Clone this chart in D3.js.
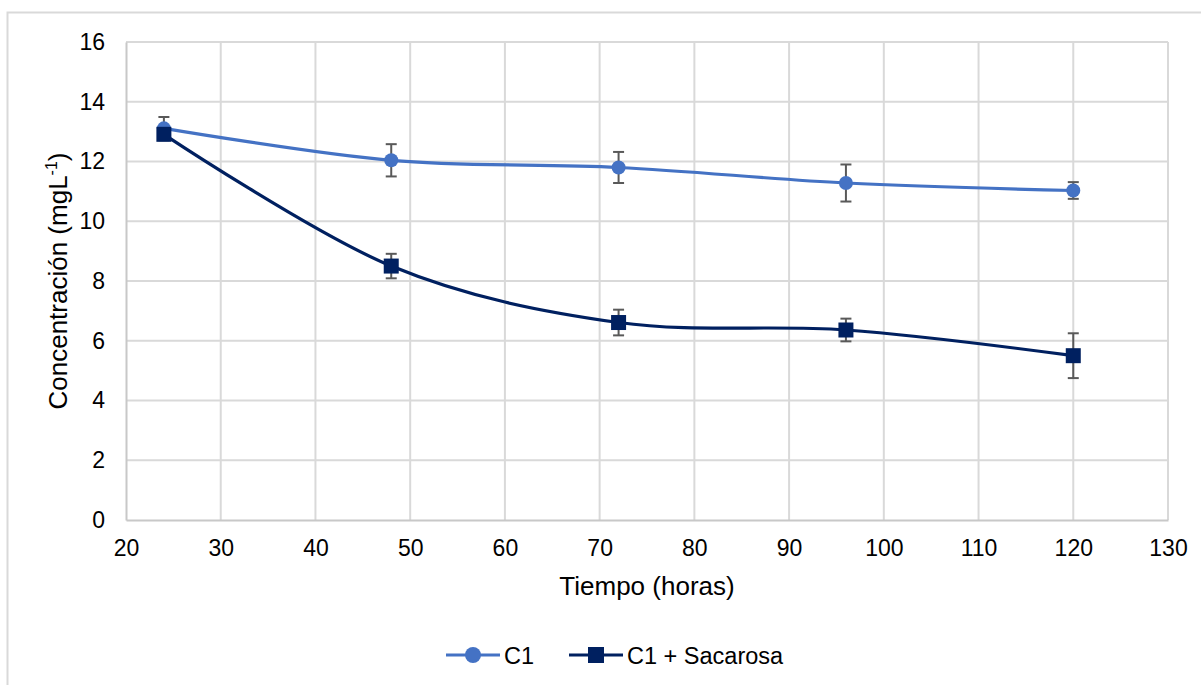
<!DOCTYPE html>
<html>
<head>
<meta charset="utf-8">
<script src="https://cdn.jsdelivr.net/npm/d3@7"></script>
<style>
  html, body { margin: 0; padding: 0; background: #fff; }
  svg { display: block; font-family: "Liberation Sans", Arial, sans-serif; }
</style>
</head>
<body>
<svg id="chart" width="1201" height="685"></svg>
<script>
// Sampling times (hours)
const hours = [24, 48, 72, 96, 120];
// Concentration, C1 (mg/L) and its standard deviation
const c1 = [13.11, 12.04, 11.80, 11.28, 11.03];
const c1Err = [0.38, 0.54, 0.52, 0.62, 0.28];
// Concentration, C1 + Sacarosa (mg/L) and its standard deviation
const sac = [12.91, 8.50, 6.61, 6.36, 5.50];
const sacErr = [0.20, 0.41, 0.43, 0.38, 0.75];
// Axis ticks
const xTicks = [20, 30, 40, 50, 60, 70, 80, 90, 100, 110, 120, 130];
const yTicks = [0, 2, 4, 6, 8, 10, 12, 14, 16];
const seriesNames = ["C1", "C1 + Sacarosa"];

const series = [
  { name: seriesNames[0], values: c1, err: c1Err, color: "#4472C4", marker: "circle" },
  { name: seriesNames[1], values: sac, err: sacErr, color: "#002060", marker: "square" }
];

const svg = d3.select("#chart");
const plot = { left: 126, right: 1168, top: 42, bottom: 520 };

const x = d3.scaleLinear().domain([20, 130]).range([plot.left, plot.right]);
const y = d3.scaleLinear().domain([0, 16]).range([plot.bottom, plot.top]);

// Outer chart frame (only top and left edges fall inside the canvas)
svg.append("path")
  .attr("d", "M7.5,685 V12.5 H1201")
  .attr("fill", "none").attr("stroke", "#D9D9D9").attr("stroke-width", 2);

// Gridlines
const grid = svg.append("g");
grid.selectAll("line.h").data(yTicks.filter(d => d > 0)).join("line")
  .attr("x1", plot.left).attr("x2", plot.right)
  .attr("y1", d => y(d)).attr("y2", d => y(d))
  .attr("stroke", "#D9D9D9").attr("stroke-width", 2);
grid.selectAll("line.v").data(xTicks.filter(d => d > 20)).join("line")
  .attr("x1", d => x(d)).attr("x2", d => x(d))
  .attr("y1", plot.top).attr("y2", plot.bottom)
  .attr("stroke", "#D9D9D9").attr("stroke-width", 2);

// Axes
const xAxis = d3.axisBottom(x).tickValues(xTicks).tickSize(0).tickPadding(20).tickFormat(d3.format("d"));
const yAxis = d3.axisLeft(y).tickValues(yTicks).tickSize(0).tickPadding(21).tickFormat(d3.format("d"));

const gx = svg.append("g").attr("transform", `translate(0,${plot.bottom})`).call(xAxis);
const gy = svg.append("g").attr("transform", `translate(${plot.left},0)`).call(yAxis);
[gx, gy].forEach(g => {
  g.select(".domain").attr("stroke", "#C8C8C8").attr("stroke-width", 2);
  g.selectAll("text").attr("font-size", 23).attr("fill", "#000")
    .attr("font-family", "'Liberation Sans', Arial, sans-serif");
});

// Axis titles
svg.append("text")
  .attr("x", (plot.left + plot.right) / 2).attr("y", 595)
  .attr("text-anchor", "middle").attr("font-size", 26).attr("fill", "#000")
  .text("Tiempo (horas)");

const yTitle = svg.append("text")
  .attr("transform", `translate(67,${(plot.top + plot.bottom) / 2}) rotate(-90)`)
  .attr("text-anchor", "middle").attr("font-size", 26).attr("fill", "#000");
yTitle.append("tspan").text("Concentración (mgL");
yTitle.append("tspan").attr("font-size", 16).attr("dy", -10).text("-1");
yTitle.append("tspan").attr("dy", 10).text(")");

// Series
const line = d3.line()
  .x(d => x(d.h)).y(d => y(d.v))
  .curve(d3.curveCardinal.tension(0));

const layer = svg.append("g");
series.forEach(s => {
  const pts = hours.map((h, i) => ({ h, v: s.values[i], e: s.err[i] }));
  const g = layer.append("g");
  g.append("path").datum(pts)
    .attr("d", line).attr("fill", "none")
    .attr("stroke", s.color).attr("stroke-width", 3.2);

  // Error bars
  const eb = g.selectAll("g.err").data(pts).join("g");
  eb.append("line")
    .attr("x1", d => x(d.h)).attr("x2", d => x(d.h))
    .attr("y1", d => y(d.v + d.e)).attr("y2", d => y(d.v - d.e))
    .attr("stroke", "#595959").attr("stroke-width", 2);
  [1, -1].forEach(sign => {
    eb.append("line")
      .attr("x1", d => x(d.h) - 5.5).attr("x2", d => x(d.h) + 5.5)
      .attr("y1", d => y(d.v + sign * d.e)).attr("y2", d => y(d.v + sign * d.e))
      .attr("stroke", "#595959").attr("stroke-width", 2);
  });

  // Markers
  if (s.marker === "circle") {
    g.selectAll("circle").data(pts).join("circle")
      .attr("cx", d => x(d.h)).attr("cy", d => y(d.v)).attr("r", 7)
      .attr("fill", s.color);
  } else {
    g.selectAll("rect").data(pts).join("rect")
      .attr("x", d => x(d.h) - 7.5).attr("y", d => y(d.v) - 7.5)
      .attr("width", 15).attr("height", 15)
      .attr("fill", s.color);
  }
});

// Legend
const legendItems = [
  { s: series[0], x0: 446 },
  { s: series[1], x0: 569 }
];
const legendY = 655;
legendItems.forEach(({ s, x0 }) => {
  const g = svg.append("g");
  g.append("line").attr("x1", x0).attr("x2", x0 + 54)
    .attr("y1", legendY).attr("y2", legendY)
    .attr("stroke", s.color).attr("stroke-width", 3.2);
  if (s.marker === "circle") {
    g.append("circle").attr("cx", x0 + 27).attr("cy", legendY).attr("r", 8).attr("fill", s.color);
  } else {
    g.append("rect").attr("x", x0 + 27 - 8).attr("y", legendY - 8)
      .attr("width", 16).attr("height", 16).attr("fill", s.color);
  }
  g.append("text").attr("x", x0 + 58).attr("y", legendY + 8.5)
    .attr("font-size", 23.5).attr("fill", "#000").text(s.name);
});
</script>
</body>
</html>
